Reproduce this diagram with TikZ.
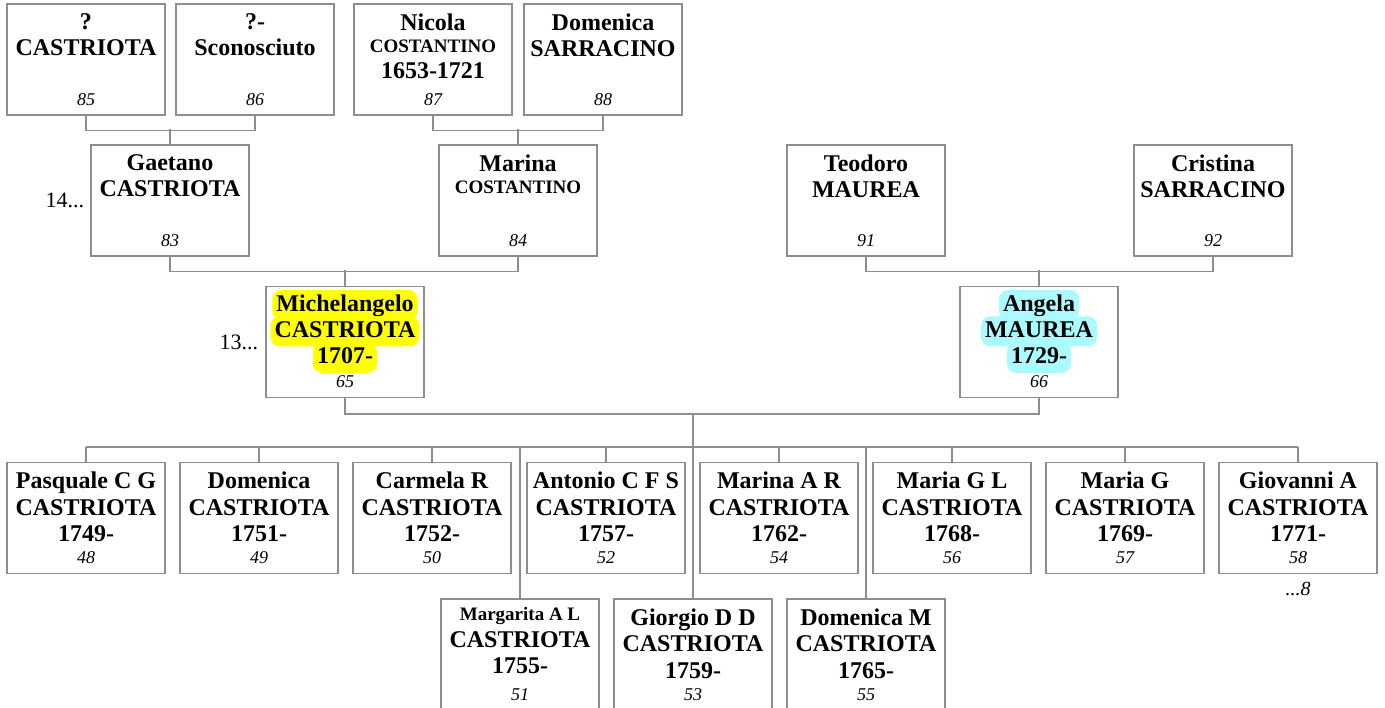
\documentclass[tikz,border=0pt]{standalone}
\usepackage{fontspec}
\setmainfont{Liberation Serif}
\usetikzlibrary{positioning}
\definecolor{boxgray}{HTML}{8E8E8E}
\definecolor{hlyellow}{HTML}{FFFF00}
\definecolor{hlcyan}{HTML}{AAFAFF}
\newcommand{\smallname}{\fontsize{19}{21}\selectfont}

\begin{document}
\begin{tikzpicture}[x=1pt, y=-1pt,
  box/.style={draw=boxgray, line width=1.3pt, minimum width=158pt, minimum height=111pt, inner sep=0pt},
  txt/.style={font=\fontsize{24}{26.5}\selectfont\bfseries, align=center, inner sep=0pt},
  nr/.style={font=\fontsize{18}{20}\selectfont\itshape, inner sep=0pt},
  gen/.style={font=\fontsize{22}{24}\selectfont, inner sep=0pt},
  hl/.style={fill=#1, rounded corners=9pt, font=\fontsize{24}{26.5}\selectfont\bfseries, inner xsep=4pt, inner ysep=2pt, text height=19pt, text depth=7pt},
  link/.style={draw=boxgray, line width=1.3pt}
]
\useasboundingbox (0,0) rectangle (1385,708);

% great-grandparents
\node[box] (p85) at (86,59.5) {};
\node[box] (p86) at (255,59.5) {};
\node[box] (p87) at (433,59.5) {};
\node[box] (p88) at (603,59.5) {};
\node[txt, below=10pt of p85.north] {?\\CASTRIOTA};
\node[txt, below=10pt of p86.north] {?-\\Sconosciuto};
\node[txt, below=10pt of p87.north] {Nicola\\[-4pt]{\smallname COSTANTINO}\\[-1pt]1653-1721};
\node[txt, below=10pt of p88.north] {Domenica\\SARRACINO};
\node[nr, above=10pt of p85.south] {85};
\node[nr, above=10pt of p86.south] {86};
\node[nr, above=10pt of p87.south] {87};
\node[nr, above=10pt of p88.south] {88};

% grandparents
\node[box] (p83) at (170,200.5) {};
\node[box] (p84) at (518,200.5) {};
\node[box] (p91) at (866,200.5) {};
\node[box] (p92) at (1213,200.5) {};
\node[txt, below=10pt of p83.north] {Gaetano\\CASTRIOTA};
\node[txt, below=10pt of p84.north] {Marina\\[-4pt]{\smallname COSTANTINO}};
\node[txt, below=10pt of p91.north] {Teodoro\\MAUREA};
\node[txt, below=10pt of p92.north] {Cristina\\SARRACINO};
\node[nr, above=10pt of p83.south] {83};
\node[nr, above=10pt of p84.south] {84};
\node[nr, above=10pt of p91.south] {91};
\node[nr, above=10pt of p92.south] {92};
\node[gen, left=6pt of p83] {14...};

% parents
\node[box] (p65) at (345,342) {};
\node[box] (p66) at (1039,342) {};
\node[hl=hlyellow, below=4pt of p65.north] (p65a) {Michelangelo};
\node[hl=hlyellow, below=-4pt of p65a] (p65b) {CASTRIOTA};
\node[hl=hlyellow, below=-4pt of p65b] (p65c) {1707-};
\node[hl=hlcyan, below=4pt of p66.north] (p66a) {Angela};
\node[hl=hlcyan, below=-4pt of p66a] (p66b) {MAUREA};
\node[hl=hlcyan, below=-4pt of p66b] (p66c) {1729-};
\node[nr, above=10pt of p65.south] {65};
\node[nr, above=10pt of p66.south] {66};
\node[gen, left=7pt of p65] {13...};

% children
\node[box] (p48) at (86,518) {};
\node[box] (p49) at (259,518) {};
\node[box] (p50) at (432,518) {};
\node[box] (p52) at (606,518) {};
\node[box] (p54) at (779,518) {};
\node[box] (p56) at (952,518) {};
\node[box] (p57) at (1125,518) {};
\node[box] (p58) at (1298,518) {};
\node[box] (p51) at (520,654.5) {};
\node[box] (p53) at (693,654.5) {};
\node[box] (p55) at (866,654.5) {};
\node[txt, below=10pt of p48.north] {Pasquale C G\\CASTRIOTA\\1749-};
\node[txt, below=10pt of p49.north] {Domenica\\CASTRIOTA\\1751-};
\node[txt, below=10pt of p50.north] {Carmela R\\CASTRIOTA\\1752-};
\node[txt, below=10pt of p52.north] {Antonio C F S\\CASTRIOTA\\1757-};
\node[txt, below=10pt of p54.north] {Marina A R\\CASTRIOTA\\1762-};
\node[txt, below=10pt of p56.north] {Maria G L\\CASTRIOTA\\1768-};
\node[txt, below=10pt of p57.north] {Maria G\\CASTRIOTA\\1769-};
\node[txt, below=10pt of p58.north] {Giovanni A\\CASTRIOTA\\1771-};
\node[txt, below=9pt of p51.north] {{\smallname Margarita A L}\\CASTRIOTA\\1755-};
\node[txt, below=10pt of p53.north] {Giorgio D D\\CASTRIOTA\\1759-};
\node[txt, below=10pt of p55.north] {Domenica M\\CASTRIOTA\\1765-};
\foreach \n in {48,49,50,51,52,53,54,55,56,57,58}
  \node[nr, above=10pt of p\n.south] {\n};
\node[gen, font=\fontsize{20}{22}\selectfont\itshape, below=8pt of p58.south] {...8};

% connectors
\draw[link] (p85.south) -- ++(0,15) -| (p86.south);
\draw[link] (p83.north) -- ++(0,-15);
\draw[link] (p87.south) -- ++(0,15) -| (p88.south);
\draw[link] (p84.north) -- ++(0,-15);
\draw[link] (p83.south) -- ++(0,15) -| (p84.south);
\draw[link] (p65.north) -- ++(0,-16);
\draw[link] (p91.south) -- ++(0,15) -| (p92.south);
\draw[link] (p66.north) -- ++(0,-16);
\draw[link] (p65.south) -- ++(0,16) -| (p66.south);
\coordinate (fam) at (693,413);
\coordinate (kids) at (693,447);
\draw[link] (fam) -- (kids);
\draw[link] (p48.north |- kids) -- (p58.north |- kids);
\foreach \n in {48,49,50,51,52,53,54,55,56,57,58}
  \draw[link] (p\n.north) -- (p\n.north |- kids);
\end{tikzpicture}
\end{document}
